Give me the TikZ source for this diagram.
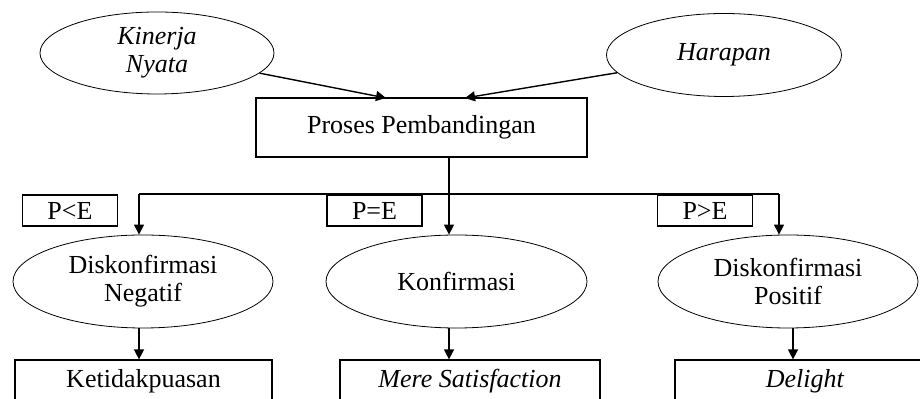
\documentclass[tikz,border=0pt]{standalone}
\usepackage{fontspec}
\setmainfont{Liberation Serif}
\usetikzlibrary{shapes.geometric,arrows.meta}
\begin{document}
\begin{tikzpicture}[x=0.5pt,y=-0.5pt,
oval/.style ={ellipse, draw, line width=0.4pt, inner sep=0pt,
  align=center, minimum width=130pt, minimum height=46.5pt,
  font=\fontsize{13}{14}\selectfont
},
box/.style ={rectangle, draw, line width=0.6pt, inner sep=0pt,
  align=center, minimum width=130pt, minimum height=21pt,
  font=\fontsize{13}{14}\selectfont
},
tag/.style ={rectangle, draw, line width=0.6pt, inner sep=0pt,
  minimum width=47.5pt, minimum height=15.5pt,
  font=\fontsize{13}{14}\selectfont
},
arr/.style ={-{Triangle[length=5pt,width=5pt]}, line width=0.7pt}]
\useasboundingbox (0,0) rectangle (920,399);
\clip (0,0) rectangle (920,399);
% top
\node (kin) at (157,53) [oval, minimum width=117pt, minimum height=41pt] {\textit{Kinerja}\\\textit{Nyata}};
\node (har) at (724,55) [oval, minimum width=117.5pt, minimum height=41.5pt] {\textit{Harapan}};
\node (proc) at (421.5,127.5) [box, minimum width=165.5pt, minimum height=29.5pt] {Proses Pembandingan};
\coordinate (inl) at (386,98);
\coordinate (inr) at (465,98);
\draw[arr] (kin) -- (inl);
\draw[arr] (har) -- (inr);
% split
\coordinate (split) at (449,194);
\coordinate (bl) at (139,194);
\coordinate (br) at (779,194);
\draw[line width=0.7pt] (proc.south -| split) -- (split);
\draw[line width=0.6pt] (bl) -- (br);
\node (tlt) at (70,210.5) [tag] {P<E};
\node (teq) at (374.5,210.5) [tag] {P=E};
\node (tgt) at (705,210.5) [tag] {P>E};
% middle
\node (neg) at (143,281.5) [oval] {Diskonfirmasi\\Negatif};
\node (kon) at (456.5,281.5) [oval, minimum width=130.5pt] {Konfirmasi};
\node (pos) at (788,281.5) [oval] {Diskonfirmasi\\Positif};
\draw[arr] (bl) -- (bl |- neg.north);
\draw[arr] (split) -- (split |- kon.north);
\draw[arr] (br) -- (br |- pos.north);
% bottom
\node (ket) at (143.5,381) [box, minimum width=128.5pt] {Ketidakpuasan};
\node (mer) at (470,381) [box] {\textit{Mere Satisfaction}};
\node (del) at (805,381) [box] {\textit{Delight}};
\draw[arr] (neg.south -| bl) -- (ket.north -| bl);
\draw[arr] (kon.south -| split) -- (mer.north -| split);
\draw[arr] (pos.south -| 793,0) -- (del.north -| 793,0);
\end{tikzpicture}
\end{document}
